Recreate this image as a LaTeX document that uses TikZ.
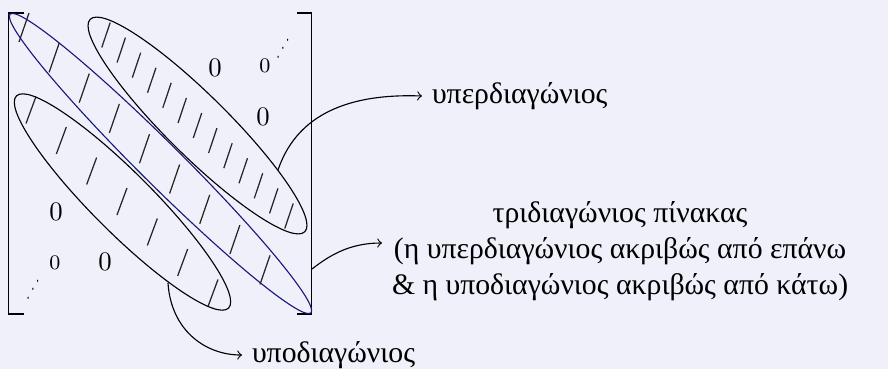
\documentclass[tikz,border=0pt]{standalone}
\usepackage{fontspec}
\usepackage{graphicx}
\newfontfamily\grk{Liberation Serif}
\definecolor{bgc}{RGB}{240,240,250}
\definecolor{navy}{RGB}{25,25,125}
\begin{document}
\begin{tikzpicture}[x=0.4pt,y=-0.4pt, line width=0.45pt,
  slash/.style={line width=0.5pt, black!85},
  lbl/.style={font=\grk\fontsize{11.9}{14.4}\selectfont, inner sep=0pt, outer sep=4pt},
  zero/.style={font=\fontsize{10.7}{12}\selectfont, inner sep=0pt},
  szero/.style={font=\fontsize{8.3}{10}\selectfont, inner sep=0pt},
  sdots/.style={font=\fontsize{7.5}{8}\selectfont, inner sep=0pt},
  conn/.style={->, line width=0.45pt}]
\path[use as bounding box, fill=bgc] (0,0) rectangle (888,369);
% brackets
\draw (24,13) -- (8.5,13) -- (8.5,314) -- (24,314);
\draw (297,13) -- (311.7,13) -- (311.7,314) -- (297,314);
% slashes
\foreach \i in {0,...,8}
  \draw[slash] ({24+30.125*\i+5},{27.5+30.3*\i-14.5}) -- ({24+30.125*\i-5},{27.5+30.3*\i+14.5});
\foreach \i in {0,...,12}
  \draw[slash] ({106+15.25*\i+4.2},{35+15.08*\i-12.5}) -- ({106+15.25*\i-4.2},{35+15.08*\i+12.5});
\foreach \i in {0,...,6}
  \draw[slash] ({31+30.33*\i+5},{110+30.5*\i-13.5}) -- ({31+30.33*\i-5},{110+30.5*\i+13.5});
% ellipses
\draw[navy, shift={(160.5,163.5)}, rotate=-44.8] (0,0) ellipse [x radius=84.8pt, y radius=8.4pt];
\draw[shift={(197.5,125.5)}, rotate=-44.7] (0,0) ellipse [x radius=60.4pt, y radius=12.2pt];
\draw[shift={(122.5,202)}, rotate=-45] (0,0) ellipse [x radius=60pt, y radius=12pt];
% zeros and dots
\node[zero] (z1) at (215,68) {0};
\node[szero] (z2) at (265,66) {0};
\node[zero] (z3) at (263,117) {0};
\node[sdots] (d1) at (283,40) {\reflectbox{\scalebox{0.6}[1.15]{$\ddots$}}};
\node[zero] (z4) at (56,212) {0};
\node[szero] (z5) at (55,263) {0};
\node[zero] (z6) at (105,262) {0};
\node[sdots] (d2) at (33,281) {\reflectbox{\scalebox{0.6}[1.15]{$\ddots$}}};
% connector start points
\coordinate (c1) at (278,170);
\coordinate (c2) at (312,269);
\coordinate (c3) at (168,283);
% labels
\node[lbl, anchor=west] (sup) at (422,96) {υπερδιαγώνιος};
\node[lbl, anchor=west, align=center] (tri) at (382,251) {τριδιαγώνιος πίνακας\\(η υπερδιαγώνιος ακριβώς από επάνω\\\& η υποδιαγώνιος ακριβώς από κάτω)};
\node[lbl, anchor=west] (sub) at (242,355) {υποδιαγώνιος};
% connectors
\draw[conn] (c1) .. controls (295,120) and (340,93) .. (sup.west);
\draw[conn] (c2) .. controls (330,255) and (350,243) .. ([yshift=3.2pt]tri.west);
\draw[conn] (c3) .. controls (171,330) and (205,355) .. (sub.west);
\end{tikzpicture}
\end{document}
